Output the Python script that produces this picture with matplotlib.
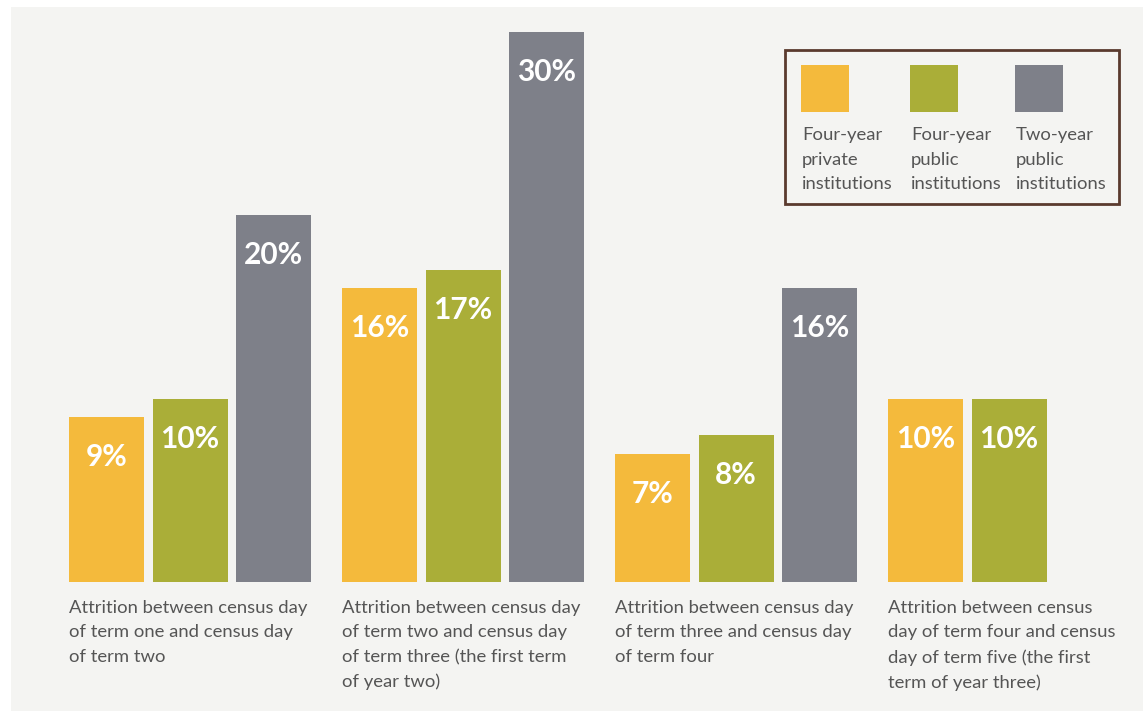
import matplotlib
matplotlib.use("Agg")
import matplotlib.pyplot as plt
from matplotlib.patches import Rectangle

# Data
groups = [
    "Attrition between census day\nof term one and census day\nof term two",
    "Attrition between census day\nof term two and census day\nof term three (the first term\nof year two)",
    "Attrition between census day\nof term three and census day\nof term four",
    "Attrition between census\nday of term four and census\nday of term five (the first\nterm of year three)",
]
series = [
    "Four-year\nprivate\ninstitutions",
    "Four-year\npublic\ninstitutions",
    "Two-year\npublic\ninstitutions",
]
private_4yr = [9, 16, 7, 10]
public_4yr = [10, 17, 8, 10]
public_2yr = [20, 30, 16, None]
values = [private_4yr, public_4yr, public_2yr]

COLORS = ["#F4BA3C", "#AAAE38", "#7E8089"]
BG = "#F4F4F2"
TEXT = "#555555"

plt.rcParams["font.family"] = ["Lato", "DejaVu Sans"]

fig = plt.figure(figsize=(11.43, 7.11), dpi=100)
fig.patch.set_facecolor("white")
# light panel behind everything
fig.patches.append(Rectangle((11 / 1143, 0), 1 - 11 / 1143, 1 - 7 / 711,
                             transform=fig.transFigure, facecolor=BG,
                             edgecolor="none", zorder=-1))

ax = fig.add_axes([0, 0, 1, 1])
ax.set_facecolor("none")
ax.set_xlim(-69 / 273, (1143 - 69) / 273)
ax.set_ylim(-129 / 18.35, 582 / 18.35)
ax.axis("off")

width = 75 / 273
step = 83.5 / 273

for s, vals in enumerate(values):
    for g, v in enumerate(vals):
        if v is None:
            continue
        x0 = g + s * step
        ax.bar(x0, v, width=width, align="edge", color=COLORS[s],
               linewidth=0, zorder=2)
        ax.text(x0 + width / 2, v - 2.18, f"{v}%", ha="center", va="center",
                color="white", fontsize=21.5, fontweight="bold", zorder=3)

for g, label in enumerate(groups):
    ax.text(g, -0.96, label, ha="left", va="top", fontsize=13.3,
            color=TEXT, linespacing=1.66)

# legend box
fx = lambda px: px / 1143
fy = lambda py: 1 - py / 711
fig.patches.append(Rectangle((fx(785), fy(204)), fx(1119) - fx(785), fy(50) - fy(204),
                             transform=fig.transFigure, facecolor="none",
                             edgecolor="#5A3A2E", linewidth=2, zorder=5))
leg_x = [801, 910, 1015]
for i, name in enumerate(series):
    fig.patches.append(Rectangle((fx(leg_x[i]), fy(112)), fx(48), fy(65) - fy(112),
                                 transform=fig.transFigure, facecolor=COLORS[i],
                                 edgecolor="none", zorder=5))
    fig.text(fx(leg_x[i] + 1), fy(127), name, ha="left", va="top",
             fontsize=13.3, color=TEXT, linespacing=1.66, zorder=5)

fig.savefig("out.png", dpi=100, facecolor="white")
